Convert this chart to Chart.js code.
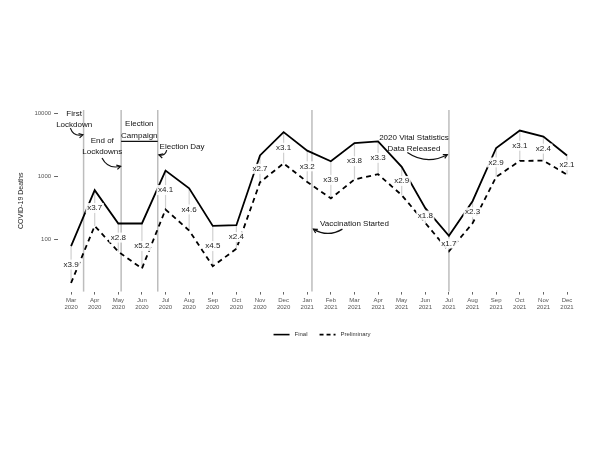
<!DOCTYPE html>
<html>
<head>
<meta charset="utf-8">
<script src="https://cdn.jsdelivr.net/npm/chart.js@4.4.1/dist/chart.umd.min.js"></script>
<style>
  html, body { margin: 0; padding: 0; background: #fff; }
  #wrap { width: 600px; height: 450px; }
</style>
</head>
<body>
<div id="wrap"><canvas id="deathsChart" width="600" height="450"></canvas></div>
<script>
// month labels (x axis)
const months = ['Mar', 'Apr', 'May', 'Jun', 'Jul', 'Aug', 'Sep', 'Oct', 'Nov', 'Dec', 'Jan',
    'Feb', 'Mar', 'Apr', 'May', 'Jun', 'Jul', 'Aug', 'Sep', 'Oct', 'Nov', 'Dec'];
const years = ['2020', '2020', '2020', '2020', '2020', '2020', '2020', '2020', '2020', '2020', '2021',
    '2021', '2021', '2021', '2021', '2021', '2021', '2021', '2021', '2021', '2021', '2021'];

// deaths per month
const finalDeaths = [77, 600, 177, 177, 1230, 640, 162, 166, 2140, 5020, 2550,
    1725, 3370, 3570, 1410, 310, 113, 400, 2810, 5330, 4270, 2140];
const preliminaryDeaths = [20, 162, 63, 34, 295, 137, 37, 70, 800, 1600, 810,
    443, 888, 1075, 500, 180, 64, 178, 975, 1750, 1770, 1060];
const ratioLabels = ['x3.9', 'x3.7', 'x2.8', 'x5.2', 'x4.1', 'x4.6', 'x4.5', 'x2.4', 'x2.7', 'x3.1', 'x3.2',
    'x3.9', 'x3.8', 'x3.3', 'x2.9', 'x1.8', 'x1.7', 'x2.3', 'x2.9', 'x3.1', 'x2.4', 'x2.1'];
const yTicks = [100, 1000, 10000];

// events, x in months since Mar 2020
const eventMonths = [0.53, 2.12, 3.67, 10.2, 16.0];
const campaignSpan = [2.12, 3.67];

// annotation texts and arrows, in data coordinates (month index, deaths)
const notes = [
    { lines: ['First', 'Lockdown'], x: 0.13, y: [9780, 6560] },
    { lines: ['End of', 'Lockdowns'], x: 1.32, y: [3660, 2430] },
    { lines: ['Election', 'Campaign'], x: 2.89, y: [6800, 4440] },
    { lines: ['Election Day'], x: 4.70, y: [2980] },
    { lines: ['Vaccination Started'], x: 12.0, y: [172] },
    { lines: ['2020 Vital Statistics', 'Data Released'], x: 14.52, y: [4040, 2710] }
];
const arrows = [
    { from: [-0.03, 5820], to: [0.50, 4560], curve: 0.45 },
    { from: [1.31, 1950], to: [2.10, 1440], curve: 0.4 },
    { from: [4.05, 2590], to: [3.72, 2180], curve: -0.5 },
    { from: [11.49, 144], to: [10.26, 144], curve: -0.3 },
    { from: [14.24, 2390], to: [15.93, 2200], curve: 0.3 }
];
const campaignLevel = 3590;

Chart.defaults.font.family = '"Liberation Sans", Arial, sans-serif';

const eventsPlugin = {
    id: 'events',
    beforeDatasetsDraw(chart) {
        const { ctx, chartArea: area, scales: { x, y } } = chart;
        ctx.save();
        // event lines
        ctx.strokeStyle = '#bdbdbd';
        ctx.lineWidth = 1.5;
        eventMonths.forEach(m => {
            const px = x.getPixelForValue(m);
            ctx.beginPath();
            ctx.moveTo(px, area.top);
            ctx.lineTo(px, area.bottom);
            ctx.stroke();
        });
        // gap between final and preliminary
        ctx.strokeStyle = '#d0d0d0';
        ctx.lineWidth = 1.2;
        finalDeaths.forEach((v, i) => {
            const px = x.getPixelForValue(i);
            ctx.beginPath();
            ctx.moveTo(px, y.getPixelForValue(v));
            ctx.lineTo(px, y.getPixelForValue(preliminaryDeaths[i]));
            ctx.stroke();
        });
        ctx.restore();
    },
    afterDatasetsDraw(chart) {
        const { ctx, scales: { x, y } } = chart;
        ctx.save();

        // ratio labels
        ctx.font = '8px "Liberation Sans", Arial, sans-serif';
        ctx.textAlign = 'center';
        ctx.textBaseline = 'middle';
        ratioLabels.forEach((txt, i) => {
            const px = x.getPixelForValue(i);
            const py = (y.getPixelForValue(finalDeaths[i]) + y.getPixelForValue(preliminaryDeaths[i])) / 2;
            const w = ctx.measureText(txt).width + 3;
            ctx.fillStyle = 'rgba(255,255,255,0.92)';
            ctx.fillRect(px - w / 2, py - 5, w, 10);
            ctx.fillStyle = '#222';
            ctx.fillText(txt, px, py);
        });

        // campaign bar
        ctx.strokeStyle = '#111';
        ctx.lineWidth = 1.3;
        const cy = y.getPixelForValue(campaignLevel);
        ctx.beginPath();
        ctx.moveTo(x.getPixelForValue(campaignSpan[0]), cy);
        ctx.lineTo(x.getPixelForValue(campaignSpan[1]), cy);
        ctx.stroke();

        // notes
        ctx.fillStyle = '#111';
        notes.forEach(n => {
            n.lines.forEach((line, k) => {
                ctx.fillText(line, x.getPixelForValue(n.x), y.getPixelForValue(n.y[k]));
            });
        });

        // curved arrows
        ctx.lineWidth = 1.2;
        arrows.forEach(a => {
            const x0 = x.getPixelForValue(a.from[0]), y0 = y.getPixelForValue(a.from[1]);
            const x1 = x.getPixelForValue(a.to[0]), y1 = y.getPixelForValue(a.to[1]);
            const dx = x1 - x0, dy = y1 - y0;
            const cx = (x0 + x1) / 2 - dy * a.curve;
            const cyy = (y0 + y1) / 2 + dx * a.curve;
            ctx.beginPath();
            ctx.moveTo(x0, y0);
            ctx.quadraticCurveTo(cx, cyy, x1, y1);
            ctx.stroke();
            const ang = Math.atan2(y1 - cyy, x1 - cx);
            const head = 4.5;
            ctx.beginPath();
            ctx.moveTo(x1 - head * Math.cos(ang - 0.5), y1 - head * Math.sin(ang - 0.5));
            ctx.lineTo(x1, y1);
            ctx.lineTo(x1 - head * Math.cos(ang + 0.5), y1 - head * Math.sin(ang + 0.5));
            ctx.stroke();
        });
        ctx.restore();
    },
    afterDraw(chart) {
        // legend below the axis, ggplot style
        const { ctx, chartArea: area } = chart;
        ctx.save();
        ctx.font = '6px "Liberation Sans", Arial, sans-serif';
        ctx.textBaseline = 'middle';
        ctx.textAlign = 'left';
        const items = chart.data.datasets.map(ds => ({
            label: ds.label, dash: ds.borderDash || [], w: ctx.measureText(ds.label).width
        }));
        const lineLen = 16, gap = 5, itemGap = 12;
        const total = items.reduce((s, it) => s + lineLen + gap + it.w, 0) + itemGap * (items.length - 1);
        let lx = (area.left + area.right) / 2 + 3 - total / 2;
        const ly = area.bottom + 43;
        items.forEach(it => {
            ctx.strokeStyle = '#000';
            ctx.lineWidth = 1.6;
            ctx.setLineDash(it.dash.length ? [4, 3] : []);
            ctx.beginPath();
            ctx.moveTo(lx, ly);
            ctx.lineTo(lx + lineLen, ly);
            ctx.stroke();
            ctx.fillStyle = '#333';
            ctx.fillText(it.label, lx + lineLen + gap, ly);
            lx += lineLen + gap + it.w + itemGap;
        });
        ctx.restore();
    }
};

const ctx = document.getElementById('deathsChart').getContext('2d');
new Chart(ctx, {
    type: 'line',
    data: {
        datasets: [{
            label: 'Final',
            data: finalDeaths.map((v, i) => ({ x: i, y: v })),
            borderColor: '#000',
            borderWidth: 1.8,
            pointRadius: 0,
            tension: 0
        }, {
            label: 'Preliminary',
            data: preliminaryDeaths.map((v, i) => ({ x: i, y: v })),
            borderColor: '#000',
            borderWidth: 1.8,
            borderDash: [5, 4],
            pointRadius: 0,
            tension: 0
        }]
    },
    options: {
        responsive: false,
        animation: false,
        layout: { padding: { top: 110, left: 13, right: 20, bottom: 137 } },
        plugins: {
            legend: { display: false },
            tooltip: { enabled: false }
        },
        scales: {
            x: {
                type: 'linear',
                min: -0.55,
                max: 21.55,
                afterBuildTicks: scale => {
                    scale.ticks = months.map((m, i) => ({ value: i }));
                },
                ticks: {
                    autoSkip: false,
                    maxRotation: 0,
                    color: '#555',
                    font: { size: 6 },
                    padding: 2,
                    callback: v => [months[v], years[v]]
                },
                grid: { drawOnChartArea: false, tickLength: 3, color: '#666' },
                border: { display: false }
            },
            y: {
                type: 'logarithmic',
                min: 14.6,
                max: 11300,
                afterBuildTicks: scale => {
                    scale.ticks = yTicks.map(v => ({ value: v }));
                },
                title: {
                    display: true,
                    text: 'COVID-19 Deaths',
                    color: '#222',
                    font: { size: 7 },
                    padding: { top: 4, bottom: 6 }
                },
                ticks: {
                    color: '#555',
                    font: { size: 6 },
                    padding: 3,
                    callback: v => String(v)
                },
                grid: { drawOnChartArea: false, tickLength: 4, color: '#666' },
                border: { display: false }
            }
        }
    },
    plugins: [eventsPlugin]
});
</script>
</body>
</html>
